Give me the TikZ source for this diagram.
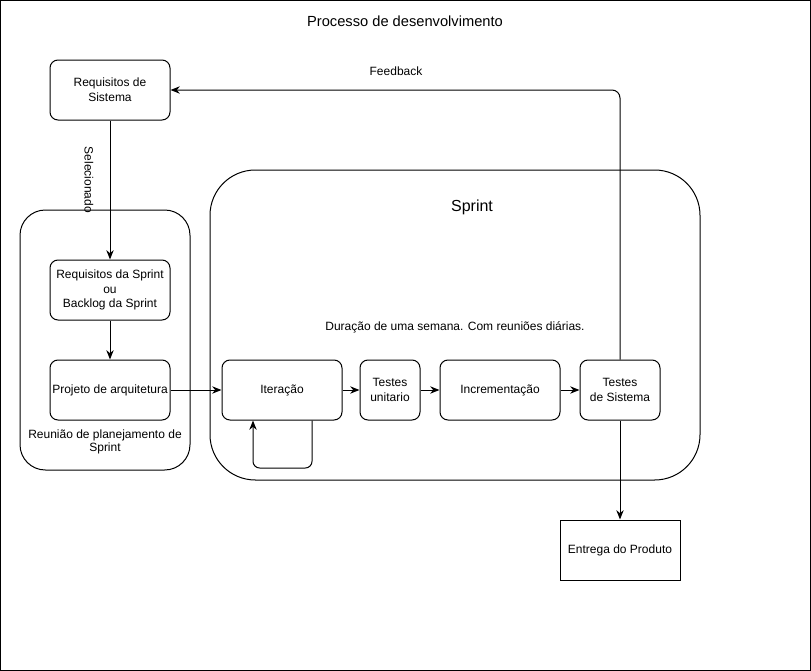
\documentclass[tikz,border=0pt]{standalone}
\usepackage{fontspec}
\setmainfont{Liberation Sans}
\usetikzlibrary{arrows.meta}
\begin{document}
\begin{tikzpicture}[x=0.75pt,y=-0.75pt,
  every node/.style={font=\fontsize{9pt}{11pt}\selectfont, align=center, inner sep=0pt},
  box/.style={draw, line width=0.75pt, rounded corners=6pt, minimum width=90pt, minimum height=45pt},
  group/.style={draw, line width=0.75pt},
  flow/.style={line width=0.75pt, -{Stealth[length=7pt,width=5.5pt]}},
  lbl/.style={font=\fontsize{9pt}{10pt}\selectfont}
]
% page frame
\useasboundingbox (0,0) rectangle (811,671);
\draw[line width=0.75pt] (0.5,0.5) rectangle (810.5,670.5);

\node[font=\fontsize{11pt}{13pt}\selectfont] (title) at (405,21) {Processo de desenvolvimento};

% containers
\node[group, rounded corners=19pt, minimum width=127.5pt, minimum height=195pt] (plan) at (105,340) {};
\node[group, rounded corners=34pt, minimum width=367.5pt, minimum height=232.5pt] (sprint) at (455,325) {};
\node[font=\fontsize{12pt}{14pt}\selectfont] (sprintlbl) at (472,207) {Sprint};
\node[lbl] (duracao) at (455,327) {Duração de uma semana. Com reuniões diárias.};
\node[lbl] (planlbl) at (105,442) {Reunião de planejamento de\\Sprint};

% steps
\node[box] (reqsis) at (110,90) {Requisitos de\\Sistema};
\node[box] (reqspr) at (110,290) {Requisitos da Sprint\\ou\\Backlog da Sprint};
\node[box] (proj) at (110,390) {Projeto de arquitetura};
\node[box] (iter) at (282,390) {Iteração};
\node[box, minimum width=45pt] (tun) at (390,390) {Testes\\unitario};
\node[box] (inc) at (500,390) {Incrementação};
\node[box, minimum width=60pt] (tsis) at (620,390) {Testes\\de Sistema};
\node[draw, line width=0.75pt, minimum width=90pt, minimum height=45pt] (entrega) at (620,550) {Entrega do Produto};

% connectors
\draw[flow] (reqsis.south) -- (reqspr.north);
\node[lbl, rotate=-90] (selec) at (89,180) {Selecionado};
\draw[flow] (reqspr.south) -- (proj.north);
\draw[flow] (proj.east) -- (iter.west);
\draw[flow] (iter.east) -- (tun.west);
\draw[flow] (tun.east) -- (inc.west);
\draw[flow] (inc.east) -- (tsis.west);
\draw[flow] (tsis.south) -- (entrega.north);
\coordinate (fbcorner) at (620,90);
\draw[flow, rounded corners=6pt] (tsis.north) -- (fbcorner) -- (reqsis.east);
\node[lbl] (fblbl) at (396,71) {Feedback};
\coordinate (loopa) at (312,468);
\coordinate (loopb) at (253,468);
\draw[flow, rounded corners=5pt] (iter.south -| loopa) -- (loopa) -- (loopb) -- (iter.south -| loopb);
\end{tikzpicture}
\end{document}
